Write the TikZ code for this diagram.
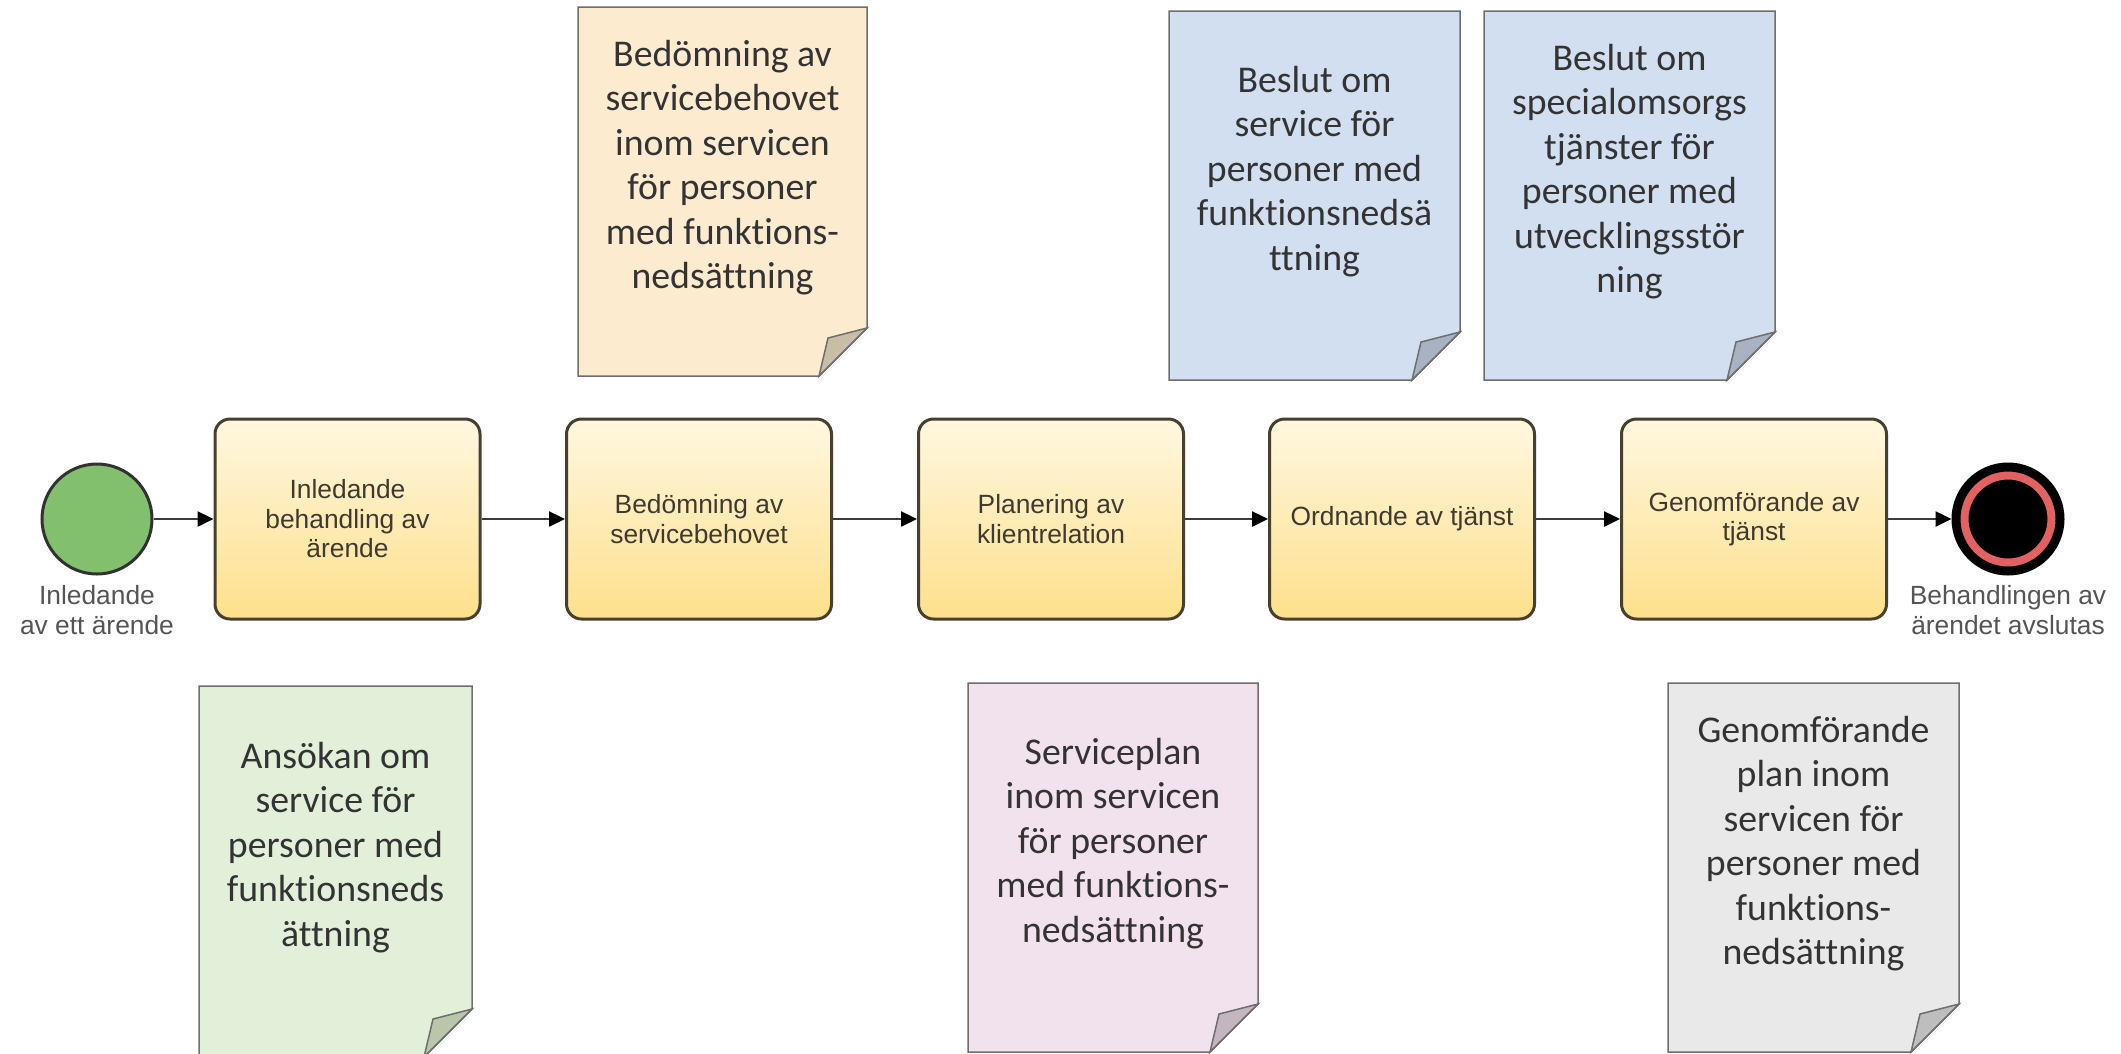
\documentclass[tikz,border=0pt]{standalone}
\usepackage{fontspec}
\setmainfont{Liberation Sans}
\newfontfamily\docfont[Ligatures=NoCommon]{Carlito}
\usetikzlibrary{positioning,arrows.meta}

\definecolor{startgreen}{RGB}{130,192,110}
\definecolor{evline}{RGB}{50,50,50}
\definecolor{endred}{RGB}{226,98,98}
\definecolor{tasktop}{RGB}{255,247,224}
\definecolor{taskbottom}{RGB}{253,224,140}
\definecolor{taskline}{RGB}{72,64,46}
\definecolor{tasktext}{RGB}{62,58,48}
\definecolor{lbltext}{RGB}{85,85,85}
\definecolor{flowline}{RGB}{60,60,60}
\definecolor{sheetline}{RGB}{110,110,110}
\definecolor{doctext}{RGB}{51,51,51}
\definecolor{orfill}{RGB}{253,235,208}
\definecolor{orflap}{RGB}{200,190,165}
\definecolor{grfill}{RGB}{226,240,218}
\definecolor{grflap}{RGB}{186,198,170}
\definecolor{blfill}{RGB}{210,223,240}
\definecolor{blflap}{RGB}{168,178,194}
\definecolor{pkfill}{RGB}{242,226,238}
\definecolor{pkflap}{RGB}{196,182,192}
\definecolor{gyfill}{RGB}{233,233,233}
\definecolor{gyflap}{RGB}{190,190,190}

\begin{document}
\begin{tikzpicture}[
    task/.style={draw=taskline, line width=0.06cm, rounded corners=0.3cm, top color=tasktop, bottom color=taskbottom,
      minimum width=5.3cm, minimum height=4cm, align=center, text=tasktext, font=\fontsize{15}{16.8}\selectfont},
    startev/.style={circle, draw=evline, line width=0.06cm, fill=startgreen, minimum size=2.2cm},
    endev/.style={circle, draw=black, line width=0.18cm, fill=black, minimum size=2.08cm,
      path picture={\draw[endred, line width=0.18cm] (path picture bounding box.center) circle (0.88cm);}},
    evlabel/.style={align=center, inner sep=0pt, text=lbltext, font=\fontsize{15}{17}\selectfont},
    flow/.style={draw=flowline, line width=0.05cm, -{Triangle[length=0.32cm, width=0.3cm, color=black]}},
    sheet/.style={draw=sheetline, line width=0.03cm},
    doctext/.style={align=center, inner sep=0pt, text=doctext, font=\docfont\fontsize{21.5}{25.3}\selectfont}
  ]
  \useasboundingbox (0,0) rectangle (42.42,-21.06);

  % Process flow
  \node[startev] (start) at (1.94,-10.38) {};
  \node[task] (intake) at (6.95,-10.38) {Inledande\\behandling av\\ärende};
  \node[task] (assess) at (13.98,-10.38) {Bedömning av\\servicebehovet};
  \node[task] (plan) at (21.02,-10.38) {Planering av\\klientrelation};
  \node[task] (arrange) at (28.04,-10.38) {Ordnande av tjänst};
  \node[task] (exec) at (35.08,-10.38) {Genomförande av\\tjänst};
  \node[endev] (end) at (40.16,-10.38) {};

  \node[evlabel, below=0.2cm of start] (startlbl) {Inledande\\av ett ärende};
  \node[evlabel, below=0.2cm of end] (endlbl) {Behandlingen av\\ärendet avslutas};

  \draw[flow] (start) -- (intake);
  \draw[flow] (intake) -- (assess);
  \draw[flow] (assess) -- (plan);
  \draw[flow] (plan) -- (arrange);
  \draw[flow] (arrange) -- (exec);
  \draw[flow] (exec) -- (end);

  % Documents above the flow
  \draw[sheet, fill=orfill] (11.56,-0.14) -| (17.34,-6.56) -- (16.38,-7.52) -- (11.56,-7.52) -- cycle;
  \draw[sheet, fill=orflap] (17.34,-6.56) -- (16.56,-6.76) -- (16.38,-7.52) -- cycle;
  \node[doctext] (assessdoc) at (14.45,-3.35) {Bedömning av\\servicebehovet\\inom servicen\\för personer\\med funktions-\\nedsättning};

  \draw[sheet, fill=blfill] (23.38,-0.22) -| (29.20,-6.64) -- (28.24,-7.60) -- (23.38,-7.60) -- cycle;
  \draw[sheet, fill=blflap] (29.20,-6.64) -- (28.42,-6.84) -- (28.24,-7.60) -- cycle;
  \node[doctext] (decisiondoc) at (26.29,-3.43) {Beslut om\\service för\\personer med\\funktionsnedsä\\ttning};

  \draw[sheet, fill=blfill] (29.68,-0.22) -| (35.50,-6.64) -- (34.54,-7.60) -- (29.68,-7.60) -- cycle;
  \draw[sheet, fill=blflap] (35.50,-6.64) -- (34.72,-6.84) -- (34.54,-7.60) -- cycle;
  \node[doctext] (specialdoc) at (32.59,-3.43) {Beslut om\\specialomsorgs\\tjänster för\\personer med\\utvecklingsstör\\ning};

  % Documents below the flow
  \draw[sheet, fill=grfill] (3.98,-13.72) -| (9.44,-20.18) -- (8.48,-21.14) -- (3.98,-21.14) -- cycle;
  \draw[sheet, fill=grflap] (9.44,-20.18) -- (8.66,-20.38) -- (8.48,-21.14) -- cycle;
  \node[doctext] (applydoc) at (6.71,-16.95) {Ansökan om\\service för\\personer med\\funktionsneds\\ättning};

  \draw[sheet, fill=pkfill] (19.36,-13.66) -| (25.16,-20.08) -- (24.20,-21.04) -- (19.36,-21.04) -- cycle;
  \draw[sheet, fill=pkflap] (25.16,-20.08) -- (24.38,-20.28) -- (24.20,-21.04) -- cycle;
  \node[doctext] (plandoc) at (22.26,-16.87) {Serviceplan\\inom servicen\\för personer\\med funktions-\\nedsättning};

  \draw[sheet, fill=gyfill] (33.36,-13.66) -| (39.18,-20.08) -- (38.22,-21.04) -- (33.36,-21.04) -- cycle;
  \draw[sheet, fill=gyflap] (39.18,-20.08) -- (38.40,-20.28) -- (38.22,-21.04) -- cycle;
  \node[doctext] (execdoc) at (36.27,-16.87) {Genomförande\\plan inom\\servicen för\\personer med\\funktions-\\nedsättning};

\end{tikzpicture}
\end{document}
